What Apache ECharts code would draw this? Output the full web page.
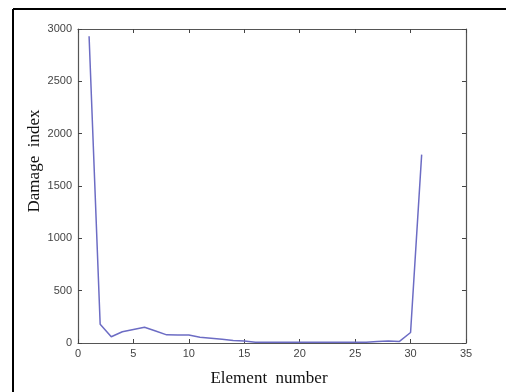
<!DOCTYPE html>
<html>
<head>
<meta charset="utf-8">
<script src="https://cdn.jsdelivr.net/npm/echarts@6/dist/echarts.min.js"></script>
<style>
html,body{margin:0;padding:0;background:#fff;}
#chart{width:506px;height:392px;}
</style>
</head>
<body>
<div id="chart"></div>
<script>
// Element numbers and their damage index values
var elements = [1,2,3,4,5,6,7,8,9,10,11,12,13,14,15,16,17,18,19,20,21,22,23,24,25,26,27,28,29,30,31];
var damageIndex = [2930,180,60,108,130,150,115,78,76,76,55,45,35,25,20,8,8,8,8,8,8,8,8,8,8,8,15,20,15,100,1800];
var xTicks = [0,5,10,15,20,25,30,35];
var yTicks = [0,500,1000,1500,2000,2500,3000];

var chart = echarts.init(document.getElementById('chart'), null, {renderer: 'canvas'});
var points = elements.map(function (e, i) { return [e, damageIndex[i]]; });
var axisLine = {show: true, onZero: false, lineStyle: {color: '#555', width: 1.2}};
var tick = {show: true, inside: true, length: 4, lineStyle: {color: '#444'}};
var tickFont = {color: '#444', fontSize: 11, fontFamily: 'Liberation Sans',
  formatter: function (v) { return String(v); }};

chart.setOption({
  animation: false,
  backgroundColor: '#fff',
  grid: {left: 78, top: 29, width: 388, height: 315, containLabel: false},
  xAxis: [
    {type: 'value', position: 'bottom', min: xTicks[0], max: xTicks[xTicks.length - 1], interval: 5,
     axisLine: axisLine, axisTick: tick, splitLine: {show: false},
     axisLabel: Object.assign({margin: 5}, tickFont),
     name: 'Element  number', nameLocation: 'middle', nameGap: 27,
     nameTextStyle: {fontFamily: 'Liberation Serif', fontSize: 17, color: '#111', padding: [0, 6, 0, 0]}},
    {type: 'value', position: 'top', min: 0, max: 35, interval: 5, show: true,
     axisLine: axisLine, axisTick: tick, axisLabel: {show: false}, splitLine: {show: false}}
  ],
  yAxis: [
    {type: 'value', position: 'left', min: yTicks[0], max: yTicks[yTicks.length - 1], interval: 500,
     axisLine: axisLine, axisTick: tick, splitLine: {show: false},
     axisLabel: Object.assign({margin: 6}, tickFont)},
    {type: 'value', position: 'right', min: 0, max: 3000, interval: 500, show: true,
     axisLine: axisLine, axisTick: tick, axisLabel: {show: false}, splitLine: {show: false}}
  ],
  series: [{
    type: 'line', data: points, showSymbol: false, symbol: 'none',
    lineStyle: {color: '#6c6cc4', width: 1.5}
  }],
  graphic: [
    {type: 'line', shape: {x1: 13, y1: 9, x2: 506, y2: 9}, style: {stroke: '#000', lineWidth: 2}},
    {type: 'line', shape: {x1: 13, y1: 9, x2: 13, y2: 392}, style: {stroke: '#000', lineWidth: 2}},
    {type: 'text', x: 35, y: 161, rotation: Math.PI / 2,
     style: {text: 'Damage  index', font: '17px "Liberation Serif"', fill: '#111',
             textAlign: 'center', textVerticalAlign: 'middle'}}
  ]
});
</script>
</body>
</html>
